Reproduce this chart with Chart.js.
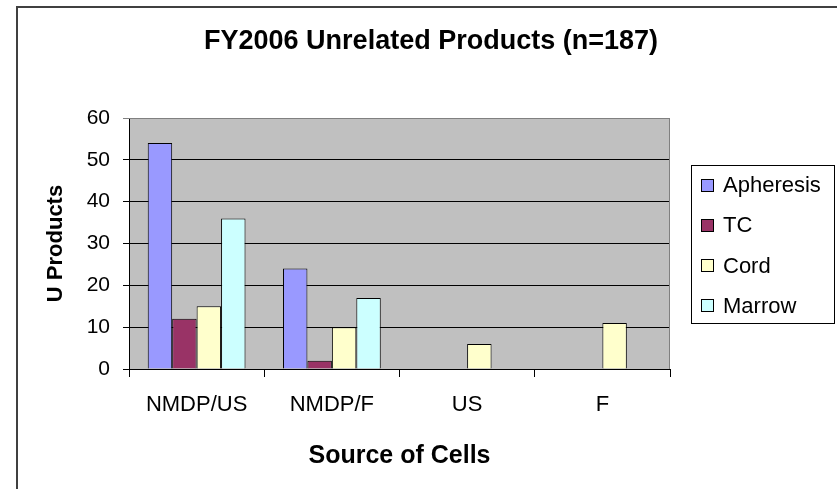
<!DOCTYPE html>
<html>
<head>
<meta charset="utf-8">
<script src="https://cdn.jsdelivr.net/npm/chart.js@4.4.1/dist/chart.umd.min.js"></script>
<style>
html, body { margin: 0; padding: 0; background: #fff; }
canvas { display: block; }
</style>
</head>
<body>
<canvas id="chart" width="837" height="489"></canvas>
<script>
const categories = ['NMDP/US', 'NMDP/F', 'US', 'F'];
const apheresis = [54, 24, null, null];
const tc = [12, 2, null, null];
const cord = [15, 10, 6, 11];
const marrow = [36, 17, null, null];
const seriesNames = ['Apheresis', 'TC', 'Cord', 'Marrow'];
const seriesColors = ['#9999FF', '#993366', '#FFFFCC', '#CCFFFF'];
const yTicks = [0, 10, 20, 30, 40, 50, 60];
const chartTitle = 'FY2006 Unrelated Products (n=187)';
const xTitle = 'Source of Cells';
const yTitle = 'U Products';

const FONT = "'Liberation Sans', Arial, sans-serif";

// background, outer frame, plot area, title and legend box
const frame = {
    id: 'frame',
    beforeDraw(chart) {
        const ctx = chart.ctx, a = chart.chartArea;
        ctx.save();
        ctx.fillStyle = '#fff';
        ctx.fillRect(0, 0, chart.width, chart.height);
        ctx.strokeStyle = '#404040';
        ctx.lineWidth = 2;
        ctx.strokeRect(17, 7, chart.width, chart.height);
        ctx.fillStyle = '#C0C0C0';
        ctx.fillRect(a.left, a.top, a.right - a.left, a.bottom - a.top);
        ctx.restore();
    },
    beforeDatasetsDraw(chart) {
        const ctx = chart.ctx, a = chart.chartArea;
        ctx.save();
        ctx.strokeStyle = '#808080';
        ctx.lineWidth = 1;
        ctx.beginPath();
        ctx.moveTo(a.left, a.top + 0.5);
        ctx.lineTo(a.right - 0.5, a.top + 0.5);
        ctx.lineTo(a.right - 0.5, a.bottom);
        ctx.stroke();
        ctx.restore();
    },
    afterDraw(chart) {
        const ctx = chart.ctx;
        ctx.save();
        ctx.fillStyle = '#000';
        ctx.font = 'bold 27px ' + FONT;
        ctx.textAlign = 'center';
        ctx.textBaseline = 'middle';
        ctx.fillText(chartTitle, 431, 42);

        // legend
        const lx = 691, ly = 165, lw = 143, lh = 158;
        ctx.fillStyle = '#fff';
        ctx.fillRect(lx, ly, lw, lh);
        ctx.strokeStyle = '#000';
        ctx.lineWidth = 1;
        ctx.strokeRect(lx + 0.5, ly + 0.5, lw, lh);
        ctx.font = '22px ' + FONT;
        ctx.textAlign = 'left';
        chart.data.datasets.forEach((ds, i) => {
            const cy = 185 + i * 40.3;
            ctx.fillStyle = ds.backgroundColor;
            ctx.fillRect(701, Math.round(cy - 6.5), 13, 13);
            ctx.strokeRect(701.5, Math.round(cy - 6.5) + 0.5, 12, 12);
            ctx.fillStyle = '#000';
            ctx.fillText(ds.label, 723, cy + 1);
        });
        ctx.restore();
    }
};

const seriesData = [apheresis, tc, cord, marrow];

new Chart(document.getElementById('chart'), {
    type: 'bar',
    data: {
        labels: categories,
        datasets: seriesNames.map((name, i) => ({
            label: name,
            data: seriesData[i],
            backgroundColor: seriesColors[i],
            borderColor: '#000',
            borderWidth: 1,
            categoryPercentage: 0.723,
            barPercentage: 1
        }))
    },
    options: {
        responsive: false,
        animation: false,
        devicePixelRatio: 1,
        layout: { padding: { top: 118, right: 167, left: 0, bottom: 0 } },
        plugins: {
            legend: { display: false },
            tooltip: { enabled: false }
        },
        scales: {
            x: {
                afterFit: s => { s.height = 120; },
                grid: { drawOnChartArea: false, tickLength: 8, color: '#000', offset: true },
                border: { color: '#000' },
                ticks: { color: '#000', font: { family: FONT, size: 22 }, padding: 15, maxRotation: 0, autoSkip: false },
                title: {
                    display: true, text: xTitle, color: '#000',
                    font: { family: FONT, size: 25, weight: 'bold' },
                    padding: { top: 18, bottom: 18 }
                }
            },
            y: {
                min: 0,
                max: 60,
                afterBuildTicks: s => { s.ticks = yTicks.map(v => ({ value: v })); },
                afterFit: s => { s.width = 129; },
                grid: {
                    color: c => (c.tick && c.tick.value === 60 ? '#808080' : '#000'),
                    tickLength: 6
                },
                border: { color: '#000' },
                ticks: { color: '#000', font: { family: FONT, size: 21 }, padding: 13 },
                title: {
                    display: true, text: yTitle, color: '#000',
                    font: { family: FONT, size: 22, weight: 'bold' },
                    padding: { top: 43, bottom: 43 }
                }
            }
        }
    },
    plugins: [frame]
});
</script>
</body>
</html>
